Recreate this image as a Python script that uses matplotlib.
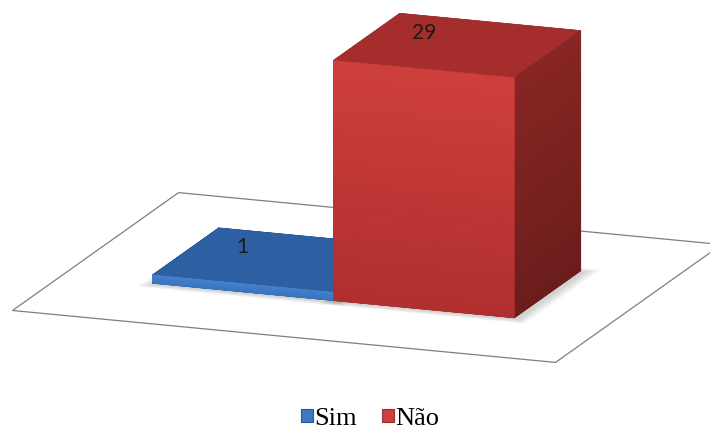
import matplotlib
matplotlib.use("Agg")
import matplotlib.pyplot as plt
from matplotlib.colors import to_rgb
from matplotlib.patches import Patch
from mpl_toolkits.mplot3d.art3d import Poly3DCollection
import numpy as np

# Data
series = ["Sim", "Não"]
values = [1, 29]

# Face colours for each series (gradient ends for front and side faces)
top_colors = ["#2D5FA3", "#A52E2C"]
front_top = ["#4480CC", "#CE3F3C"]
front_bottom = ["#3A72BE", "#B02F2F"]
side_top = ["#2A5896", "#882624"]
side_bottom = ["#214680", "#6A1D1B"]
swatch_colors = ["#3F78C2", "#CC4040"]
swatch_edges = ["#2A5894", "#9A2D2D"]

W, H = 710, 430
fig = plt.figure(figsize=(W / 100, H / 100), dpi=100)
fig.patch.set_facecolor("white")

# Square 3D axes (300 px) placed around the scene centre, scaled up with zoom
S = 300
left_px, bottom_px = 212.5, 119.0
ax = fig.add_axes([left_px / W, bottom_px / H, S / W, S / H], projection="3d")
ax.set_proj_type("ortho")
ax.view_init(elev=15.1, azim=-69.85)
ax.computed_zorder = False
ax.set_axis_off()
ax.patch.set_alpha(0)

bar_w, bar_d = 1.0, 1.0
n = len(values)
floor_x = (-0.5, n + 0.5)
floor_y = (0.0, 2.5)
bar_y0 = (floor_y[1] - bar_d) / 2
zmax = max(values)
ax.set_xlim(*floor_x)
ax.set_ylim(*floor_y)
ax.set_zlim(0, zmax)
ax.set_box_aspect((floor_x[1] - floor_x[0], floor_y[1] - floor_y[0], 1.29),
                  zoom=2.566)

# Floor of the chart
floor = Poly3DCollection(
    [[(floor_x[0], floor_y[0], 0), (floor_x[1], floor_y[0], 0),
      (floor_x[1], floor_y[1], 0), (floor_x[0], floor_y[1], 0)]],
    facecolor="white", edgecolor="#7F7F7F", linewidth=0.9, zorder=1)
floor.set_clip_on(False)
ax.add_collection3d(floor)

xs = np.arange(n) * bar_w

# Soft shadow around each bar's footprint
shadow_polys = []
for x in xs:
    for k in range(1, 6):
        e = 0.014 * k
        x0, x1 = x - e + 0.02, x + bar_w + e + 0.02
        y0, y1 = bar_y0 - e - 0.02, bar_y0 + bar_d + e - 0.02
        shadow_polys.append([(x0, y0, 0), (x1, y0, 0), (x1, y1, 0), (x0, y1, 0)])
shadow = Poly3DCollection(shadow_polys, facecolor=(0, 0, 0, 0.035),
                          edgecolor="none", zorder=1.5)
shadow.set_clip_on(False)
ax.add_collection3d(shadow)


def mix(c0, c1, t):
    a, b = np.array(to_rgb(c0)), np.array(to_rgb(c1))
    return tuple(a + (b - a) * t)


# Bars drawn as stacked slices so front and side faces carry a gradient.
# Faces per cuboid are ordered -z, +z, -y, +y, -x, +x
n_slices = 24
bx, by, bz, bdz, face_cols = [], [], [], [], []
for i, (x, v) in enumerate(zip(xs, values)):
    h = v / n_slices
    for s in range(n_slices):
        t = (s + 0.5) / n_slices
        front = mix(front_bottom[i], front_top[i], t)
        side = mix(side_bottom[i], side_top[i], t)
        top = to_rgb(top_colors[i])
        bx.append(x)
        by.append(bar_y0)
        bz.append(s * h)
        bdz.append(h)
        face_cols += [side, top, front, side, side, side]

bars = ax.bar3d(bx, by, bz, bar_w, bar_d, bdz,
                color=face_cols, edgecolor=face_cols, linewidth=0.4,
                shade=False, zorder=2)
bars.set_clip_on(False)

# Value labels on the top face of each bar, projected to 2D view coordinates
M = ax.get_proj()
for x, v in zip(xs, values):
    p = M @ np.array([x + 0.25, bar_y0 + 0.68, v, 1.0])
    ax.text2D(p[0] / p[3], p[1] / p[3], str(v), transform=ax.transData,
              ha="center", va="center", fontsize=15, family="Lato",
              color="#1A1A1A", zorder=5)

handles = [Patch(facecolor=c, edgecolor=e, linewidth=0.8)
           for c, e in zip(swatch_colors, swatch_edges)]
fig.legend(handles, series, loc="center", bbox_to_anchor=(0.521, 0.0256),
           ncol=2, frameon=False,
           prop={"family": "Liberation Serif", "size": 19},
           handlelength=0.455, handleheight=0.417, handletextpad=0.05,
           columnspacing=0.95, borderaxespad=0, borderpad=0)

fig.savefig("out.png", dpi=100, facecolor="white")
